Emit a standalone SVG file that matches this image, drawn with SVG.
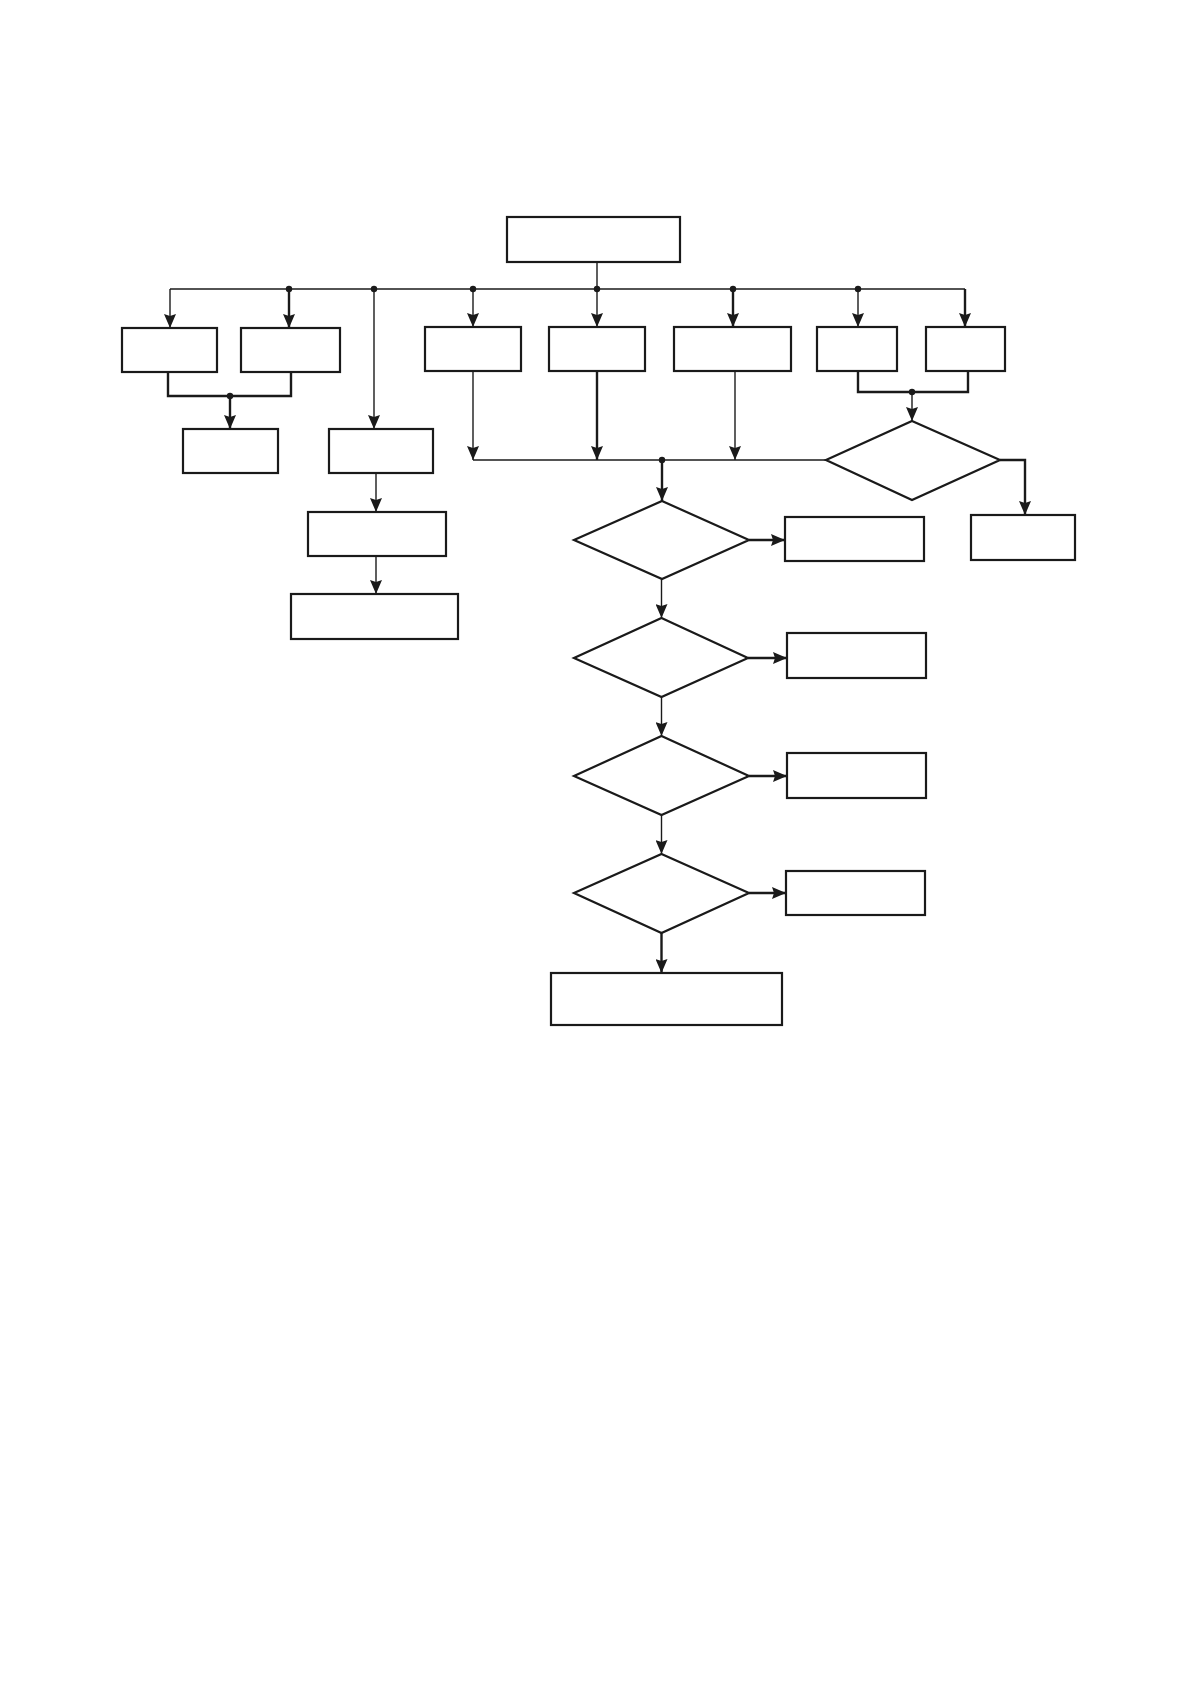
<svg xmlns="http://www.w3.org/2000/svg" width="1192" height="1684" viewBox="0 0 1192 1684">
<style>
.box{fill:#fff;stroke:#1a1a1a;stroke-width:2.2}
.thin{fill:none;stroke:#1a1a1a;stroke-width:1.4}
.thick{fill:none;stroke:#1a1a1a;stroke-width:2.4}
.dot{fill:#1a1a1a}
</style>
<defs>
<marker id="arr" viewBox="0 0 14 12" refX="14" refY="6" markerWidth="14" markerHeight="12" markerUnits="userSpaceOnUse" orient="auto">
<path d="M0,0 L14,6 L0,12 L2,6 z" fill="#1a1a1a"/>
</marker>
</defs>
<rect width="1192" height="1684" fill="#fff"/>
<g id="connectors">
<path class="thin" d="M597,262 V289"/>
<path class="thin" d="M170,289 H965"/>
<path class="thin" d="M170,289 V328" marker-end="url(#arr)"/>
<path class="thick" d="M289,289 V328" marker-end="url(#arr)"/>
<path class="thin" d="M374,289 V429" marker-end="url(#arr)"/>
<path class="thin" d="M473,289 V327" marker-end="url(#arr)"/>
<path class="thin" d="M597,289 V327" marker-end="url(#arr)"/>
<path class="thick" d="M733,289 V327" marker-end="url(#arr)"/>
<path class="thin" d="M858,289 V327" marker-end="url(#arr)"/>
<path class="thick" d="M965,289 V327" marker-end="url(#arr)"/>
<circle class="dot" cx="289" cy="289" r="3.2"/>
<circle class="dot" cx="374" cy="289" r="3.2"/>
<circle class="dot" cx="473" cy="289" r="3.2"/>
<circle class="dot" cx="597" cy="289" r="3.2"/>
<circle class="dot" cx="733" cy="289" r="3.2"/>
<circle class="dot" cx="858" cy="289" r="3.2"/>
<path class="thick" d="M168,372 V396 H291 V372"/>
<path class="thick" d="M230,396 V429" marker-end="url(#arr)"/>
<circle class="dot" cx="230" cy="396" r="3.2"/>
<path class="thin" d="M376,473 V512" marker-end="url(#arr)"/>
<path class="thin" d="M376,556 V594" marker-end="url(#arr)"/>
<path class="thin" d="M473,371 V460" marker-end="url(#arr)"/>
<path class="thin" d="M473,460 H826"/>
<path class="thick" d="M597,371 V460" marker-end="url(#arr)"/>
<path class="thin" d="M735,371 V460" marker-end="url(#arr)"/>
<path class="thick" d="M662,460 V501" marker-end="url(#arr)"/>
<circle class="dot" cx="662" cy="460" r="3.2"/>
<path class="thick" d="M858,371 V392 H968 V371"/>
<path class="thin" d="M912,392 V421" marker-end="url(#arr)"/>
<circle class="dot" cx="912" cy="392" r="3.2"/>
<path class="thick" d="M1000,460 H1025 V515" marker-end="url(#arr)"/>
<path class="thick" d="M749,540 H785" marker-end="url(#arr)"/>
<path class="thin" d="M661.5,579 V618" marker-end="url(#arr)"/>
<path class="thick" d="M748,658 H787" marker-end="url(#arr)"/>
<path class="thin" d="M661.5,697 V736" marker-end="url(#arr)"/>
<path class="thick" d="M749,776 H787" marker-end="url(#arr)"/>
<path class="thin" d="M661.5,815 V854" marker-end="url(#arr)"/>
<path class="thick" d="M749,893 H786" marker-end="url(#arr)"/>
<path class="thick" d="M661.5,933 V973" marker-end="url(#arr)"/>
</g>
<g id="n-top"><rect class="box" x="507" y="217" width="173" height="45"/></g>
<g id="n-b1"><rect class="box" x="122" y="328" width="95" height="44"/></g>
<g id="n-b2"><rect class="box" x="241" y="328" width="99" height="44"/></g>
<g id="n-b3"><rect class="box" x="183" y="429" width="95" height="44"/></g>
<g id="n-b4"><rect class="box" x="329" y="429" width="104" height="44"/></g>
<g id="n-b11"><rect class="box" x="308" y="512" width="138" height="44"/></g>
<g id="n-b12"><rect class="box" x="291" y="594" width="167" height="45"/></g>
<g id="n-b5"><rect class="box" x="425" y="327" width="96" height="44"/></g>
<g id="n-b6"><rect class="box" x="549" y="327" width="96" height="44"/></g>
<g id="n-b7"><rect class="box" x="674" y="327" width="117" height="44"/></g>
<g id="n-b8"><rect class="box" x="817" y="327" width="80" height="44"/></g>
<g id="n-b9"><rect class="box" x="926" y="327" width="79" height="44"/></g>
<g id="n-dr"><polygon class="box" points="912,421 1000,460 912,500 826,460"/></g>
<g id="n-b10"><rect class="box" x="971" y="515" width="104" height="45"/></g>
<g id="n-d1"><polygon class="box" points="662,501 749,540 662,579 574,540"/></g>
<g id="n-r1"><rect class="box" x="785" y="517" width="139" height="44"/></g>
<g id="n-d2"><polygon class="box" points="661.5,618 748,658 661.5,697 574,658"/></g>
<g id="n-r2"><rect class="box" x="787" y="633" width="139" height="45"/></g>
<g id="n-d3"><polygon class="box" points="661.5,736 749,776 661.5,815 574,776"/></g>
<g id="n-r3"><rect class="box" x="787" y="753" width="139" height="45"/></g>
<g id="n-d4"><polygon class="box" points="661.5,854 749,893 661.5,933 574,893"/></g>
<g id="n-r4"><rect class="box" x="786" y="871" width="139" height="44"/></g>
<g id="n-final"><rect class="box" x="551" y="973" width="231" height="52"/></g>
</svg>
